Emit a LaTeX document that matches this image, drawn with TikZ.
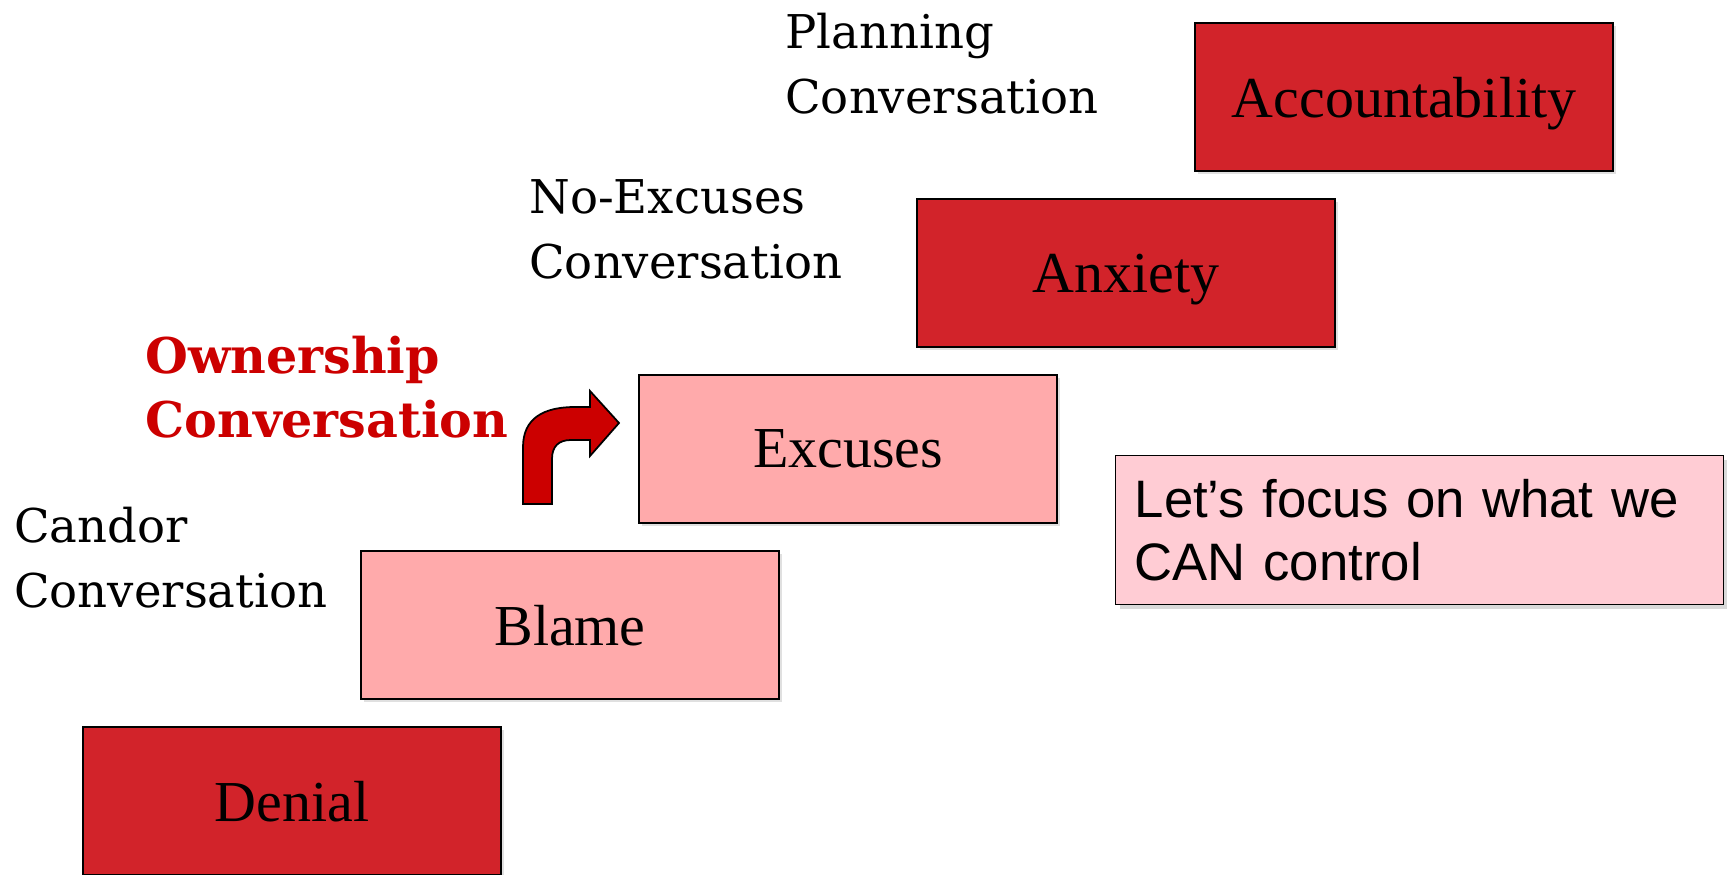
\documentclass[tikz,border=0pt]{standalone}
\usepackage{fontspec}
\setmainfont{Liberation Serif}
\setsansfont{Liberation Sans}
\newfontfamily\talkserif{DejaVu Serif}
\usetikzlibrary{shadows}

\definecolor{stepred}{HTML}{D2232A}
\definecolor{steppink}{HTML}{FFAAAB}
\definecolor{notepink}{HTML}{FFCCD4}
\definecolor{ownred}{HTML}{CC0000}

\tikzset{
  stepbox/.style={draw=black, line width=1pt, minimum width=8.36cm, minimum height=2.96cm,
    font=\fontsize{33}{38}\selectfont, text depth=0pt,
    general shadow={fill=black!12, shadow xshift=1.5pt, shadow yshift=-1.5pt}},
  hotstep/.style={stepbox, fill=stepred},
  softstep/.style={stepbox, fill=steppink},
  talk/.style={align=left, inner sep=0pt, anchor=base west,
    font=\talkserif\fontsize{26.5}{36.8}\selectfont},
  notebox/.style={draw=black, line width=0.8pt, fill=notepink, anchor=north west,
    minimum width=12.16cm, minimum height=2.98cm, text width=11.4cm, align=left,
    inner xsep=0.38cm,
    font=\sffamily\fontsize{30}{36}\selectfont,
    general shadow={fill=black!15, shadow xshift=2.5pt, shadow yshift=-2.5pt}}
}

\begin{document}
\begin{tikzpicture}[x=0.02cm, y=-0.02cm]
  \useasboundingbox (0,0) rectangle (1727,875);

  % the staircase
  \node[hotstep]  (denial)  at (292,801)  {Denial};
  \node[softstep] (blame)   at (570,625)  {Blame};
  \node[softstep] (excuses) at (848,449)  {Excuses};
  \node[hotstep]  (anxiety) at (1126,273) {Anxiety};
  \node[hotstep]  (account) at (1404,97)  {Accountability};

  % conversations
  \node[talk] (candor) at (14,607)  {Candor\\Conversation};
  \node[talk, font=\talkserif\bfseries\fontsize{28}{36.3}\selectfont, text=ownred]
        (owner) at (145,437) {Ownership\\Conversation};
  \node[talk] (noexc)  at (529,278) {No-Excuses\\Conversation};
  \node[talk] (plan)   at (785,113) {Planning\\Conversation};

  \node[notebox] (focus) at (1115,455) {Let’s focus on what we\\CAN control};

  % bent arrow up to the excuses step
  \draw[fill=ownred, line width=1pt, line join=miter]
    (523,504) -- (523,447) .. controls (523,418) and (544,407) .. (575,407)
    -- (590,407) -- (590,391) -- (619,423) -- (590,456) -- (590,440) -- (571,440)
    .. controls (559,440) and (552,446) .. (552,459) -- (552,504) -- cycle;
\end{tikzpicture}
\end{document}
